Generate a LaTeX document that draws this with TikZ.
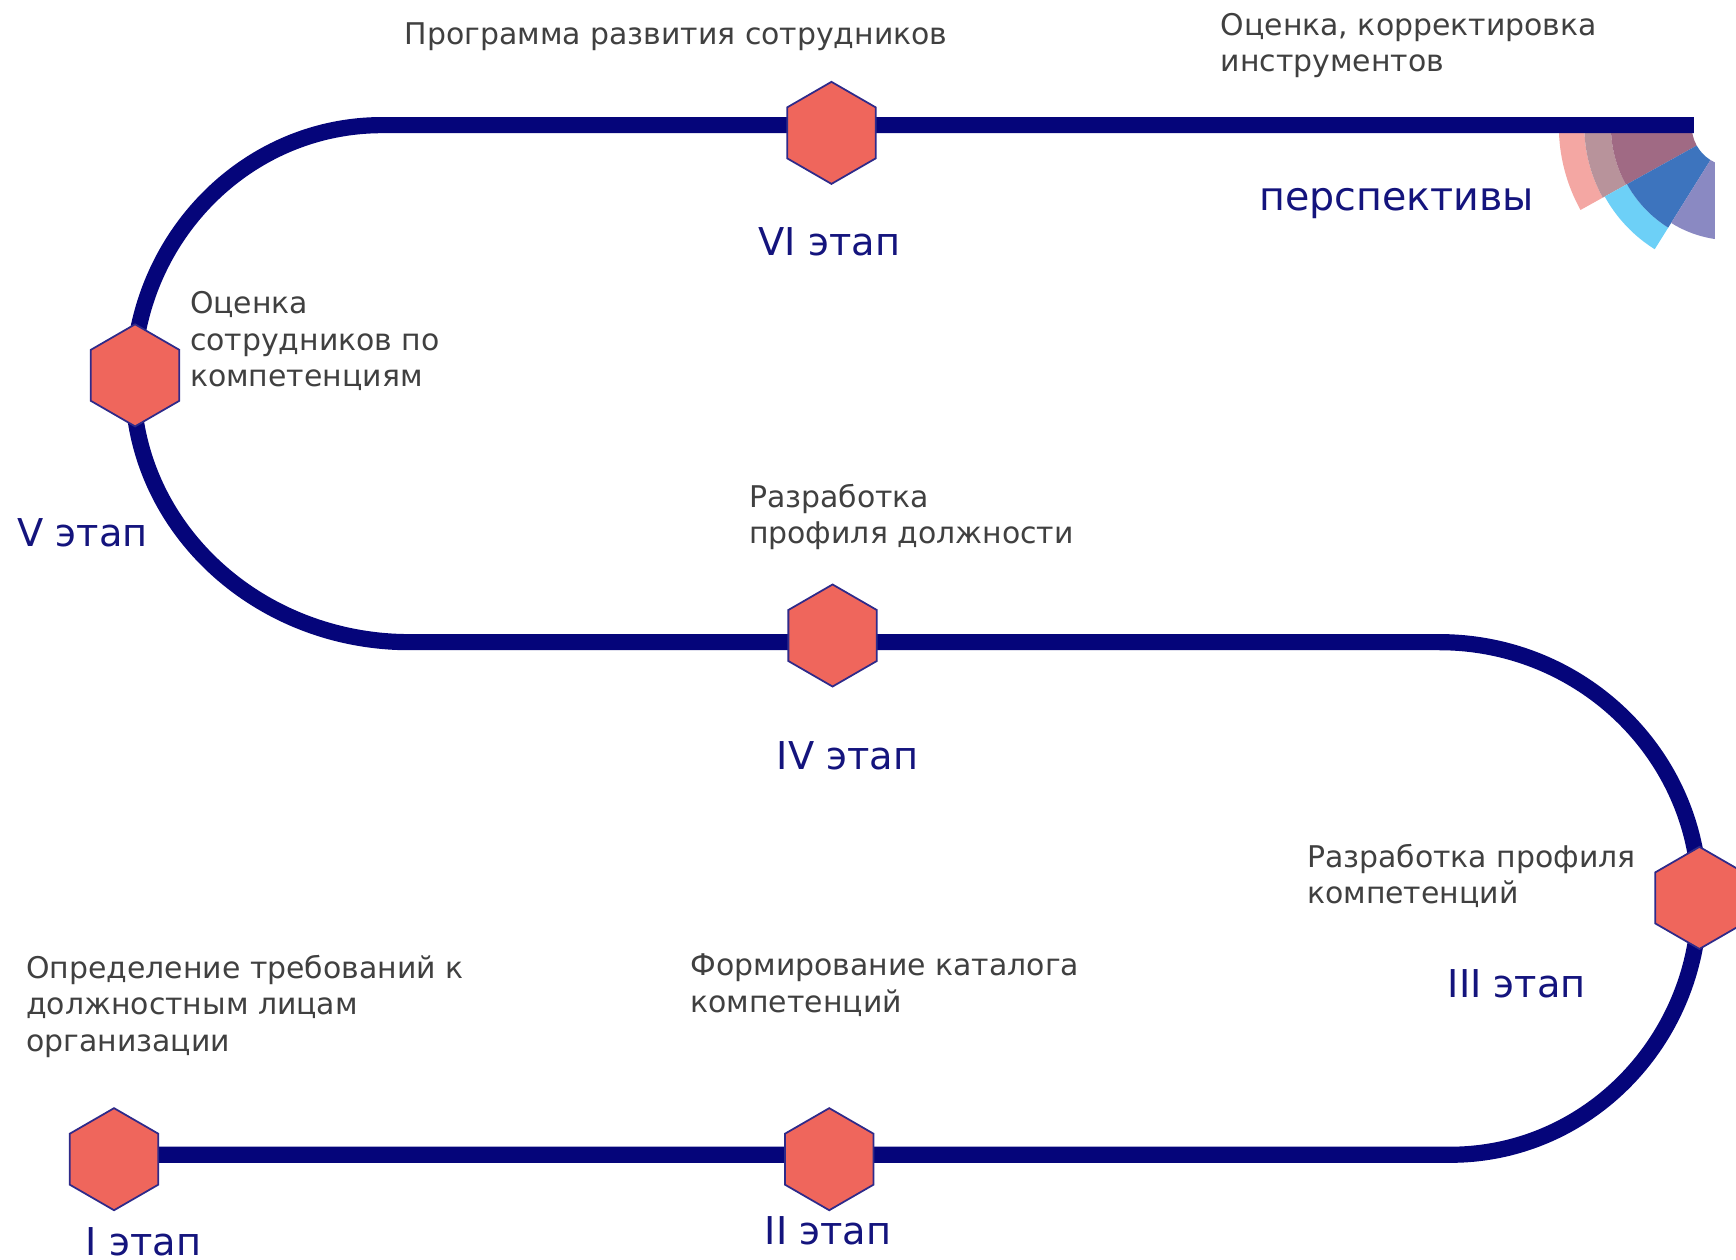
\documentclass[tikz,border=0pt]{standalone}
\usepackage{fontspec}
\setmainfont{DejaVu Sans}
\usepackage{xcolor}
\usepackage{tikz}
\usetikzlibrary{shapes.geometric}

\definecolor{trackblue}{HTML}{05057A}
\definecolor{hexred}{HTML}{EF665C}
\definecolor{hexedge}{HTML}{2E2A8A}
\definecolor{notegray}{HTML}{404040}
\definecolor{stageblue}{HTML}{14147D}
\definecolor{fanpink}{HTML}{F4A7A3}
\definecolor{fangray}{HTML}{B8939B}
\definecolor{fanmauve}{HTML}{A06A84}
\definecolor{fanblue}{HTML}{3D74BE}
\definecolor{fansky}{HTML}{6DD0F7}
\definecolor{fanlav}{HTML}{8A89C2}

\tikzset{
	track/.style={draw=trackblue, line width=4.6pt},
	stage/.style={regular polygon, regular polygon sides=6, shape border rotate=30,
		minimum size=1.02cm, inner sep=0pt, fill=hexred, draw=hexedge, line width=0.5pt},
	note/.style={anchor=west, align=left, inner sep=0pt, text=notegray,
		font=\fontsize{8.5}{10.4}\selectfont},
	stagelabel/.style={inner sep=0pt, text=stageblue, font=\fontsize{10.9}{12}\selectfont}
}

\begin{document}
\begin{tikzpicture}[x=0.01107cm, y=-0.01107cm]
		\useasboundingbox (0, 0) rectangle (1568, 1138);
		\clip (0, 0) rectangle (1568, 1138);

		% stage points
		\coordinate (p1) at (103, 1047);
		\coordinate (p2) at (749, 1047);
		\coordinate (p3) at (1535, 811);
		\coordinate (p4) at (752, 574);
		\coordinate (p5) at (122, 339);
		\coordinate (p6) at (751, 120);
		\coordinate (fc) at (1564, 114);

		% fan
		\begin{scope}[shift={(fc)}]
			\clip (-200, -20) rectangle (-15, 200);
			\fill[fanpink] (180:133) arc (180:151:133) -- (151:156) arc (151:180:156) -- cycle;
			\fill[fangray] (180:109) arc (180:151:109) -- (151:133) arc (151:180:133) -- cycle;
			\fill[fanmauve] (180:36) arc (180:151:36) -- (151:109) arc (151:180:109) -- cycle;
			\fill[fansky] (151:108) arc (151:122:108) -- (122:131) arc (122:151:131) -- cycle;
			\fill[fanblue] (151:36) arc (151:122:36) -- (122:108) arc (122:151:108) -- cycle;
			\fill[fanlav] (122:36) arc (122:90:36) -- (90:103) arc (90:122:103) -- cycle;
		\end{scope}

		% track
		\draw[track] (p1 |- 0, 1043) -- (1310, 1043)
			arc (90:0:225 and 232)
			arc (0:-90:235 and 231)
			-- (370, 580)
			arc (90:180:250 and 234)
			arc (180:270:225 and 233)
			-- (1530, 113);

		% stages
		\foreach \i in {1, ..., 6}
			\node[stage] (s\i) at (p\i) {};

		\node[stagelabel, anchor=west] (l1) at (77, 1122) {I этап};
		\node[stagelabel] (l2) at (748, 1112) {II этап};
		\node[stagelabel, anchor=west] (l3) at (1307, 889) {III этап};
		\node[stagelabel, anchor=west] (l4) at (701, 683) {IV этап};
		\node[stagelabel, anchor=west] (l5) at (15, 481) {V этап};
		\node[stagelabel] (l6) at (749, 218) {VI этап};
		\node[stagelabel, anchor=west, font=\fontsize{11.25}{12}\selectfont] (goal) at (1137, 184) {перспективы};

		\node[note] (n1) at (23, 909) {Определение требований к\\должностным лицам\\организации};
		\node[note] (n2) at (623, 890) {Формирование каталога\\компетенций};
		\node[note] (n3) at (1180, 791) {Разработка профиля\\компетенций};
		\node[note] (n4) at (676, 467) {Разработка\\профиля должности};
		\node[note] (n5) at (171, 308) {Оценка\\сотрудников по\\компетенциям};
		\node[note] (n6) at (365, 33) {Программа развития сотрудников};
		\node[note] (n7) at (1102, 41) {Оценка, корректировка\\инструментов};
	\end{tikzpicture}
\end{document}
